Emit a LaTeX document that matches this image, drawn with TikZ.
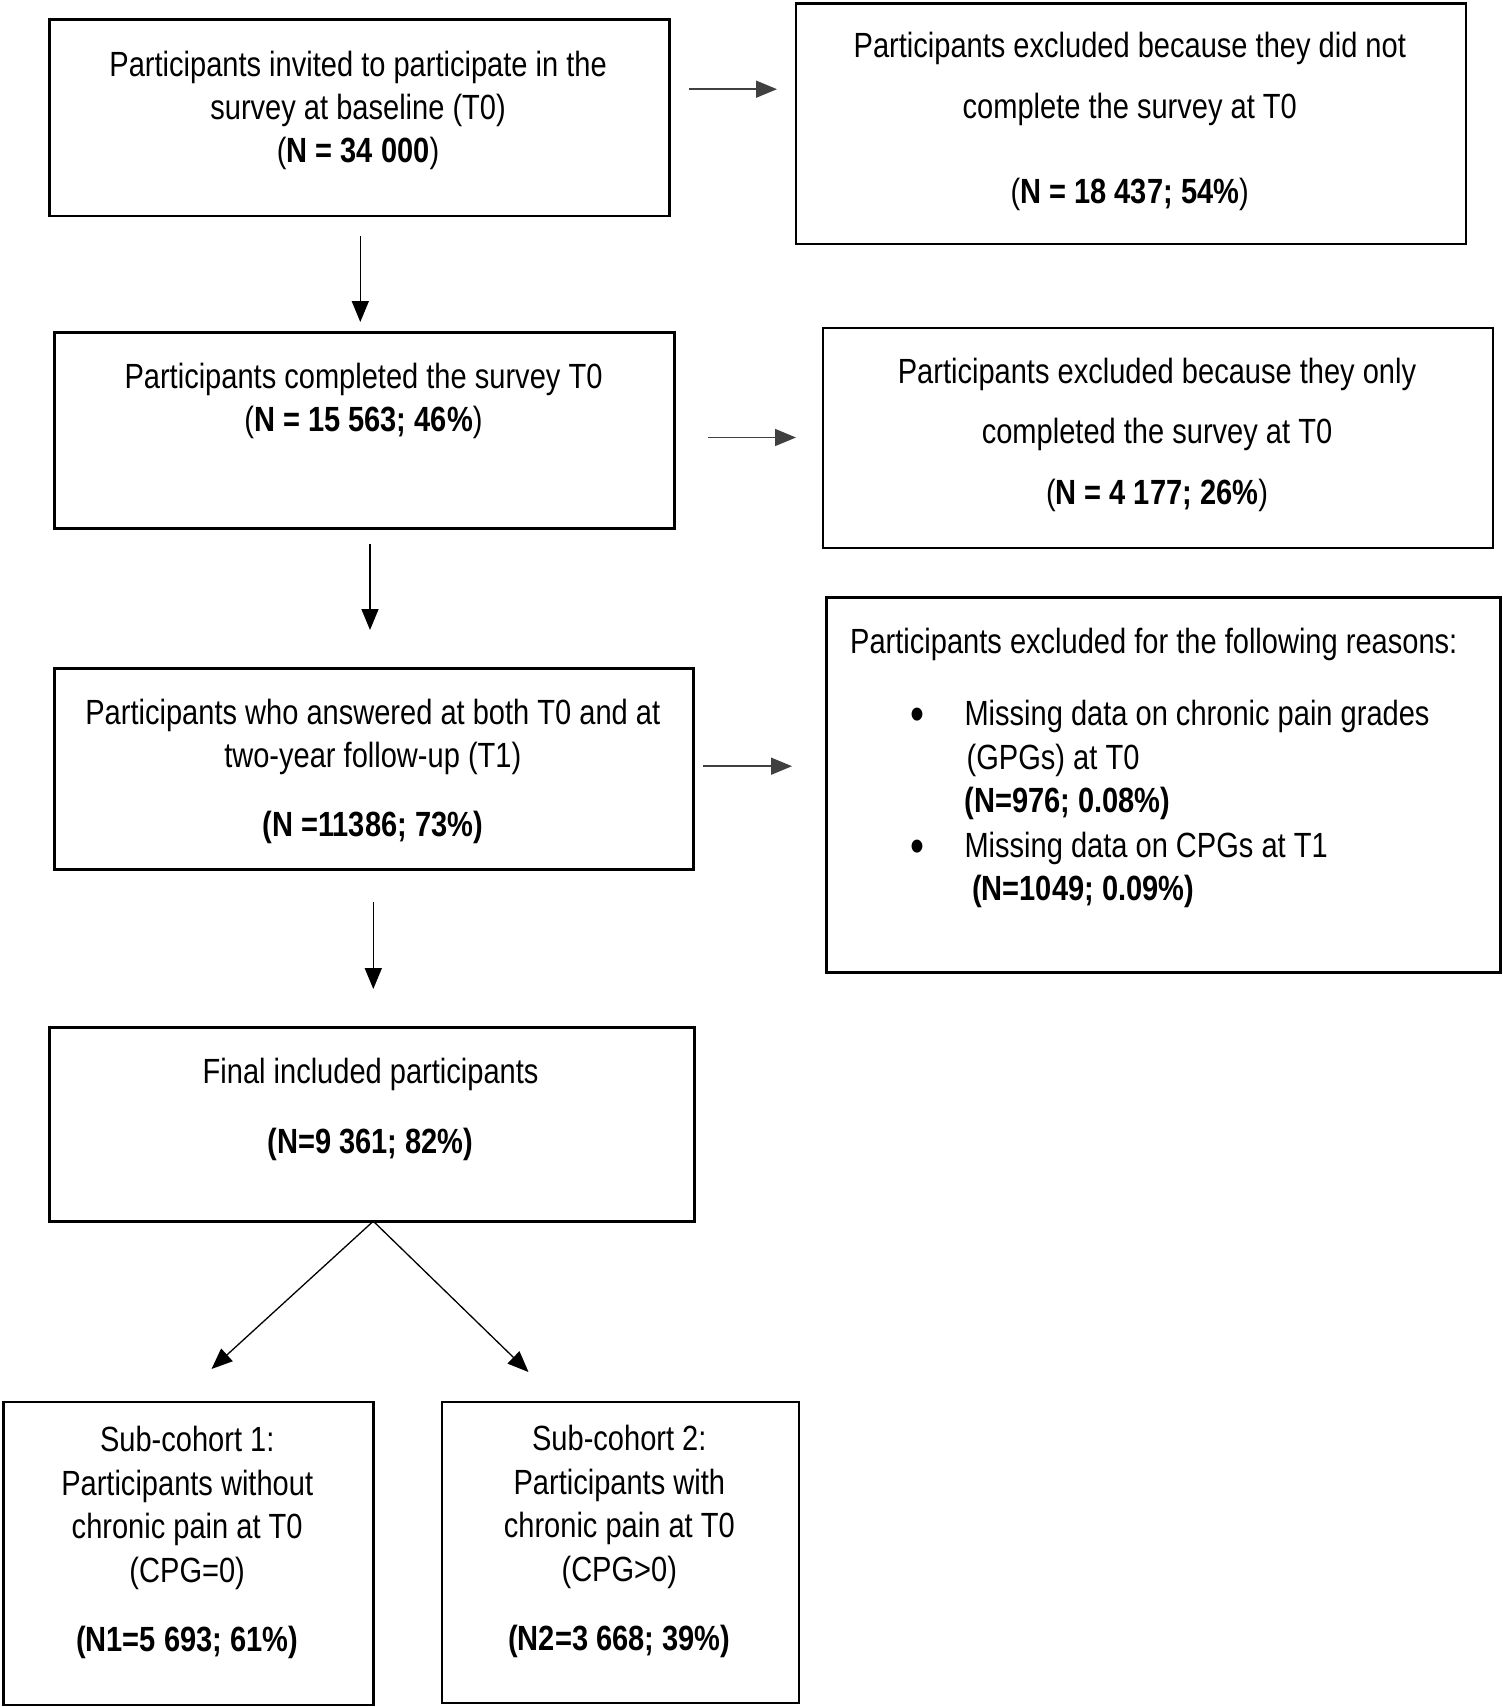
\documentclass[tikz,border=0pt]{standalone}
\usepackage{fontspec}
\setmainfont{Liberation Sans}[FakeStretch=0.83]
\usetikzlibrary{arrows.meta}
\begin{document}
\begin{tikzpicture}[x=1pt,y=-1pt,
  box/.style={draw=black, line width=2.6pt, fill=none},
  txt/.style={anchor=base, inner sep=0pt, font=\fontsize{35}{40}\selectfont},
  ltxt/.style={txt, anchor=base west},
  bul/.style={txt, font=\fontsize{48}{50}\selectfont},
  arr/.style={line width=1.6pt, -{Triangle[length=21pt,width=17pt]}},
  harr/.style={arr, draw=black!75}]
\useasboundingbox (0,0) rectangle (1502,1707);
% boxes
\node[box, minimum width=620pt, minimum height=196pt, anchor=north west] (A) at (47.9,18.5) {};
\node[box, minimum width=670pt, minimum height=240pt, anchor=north west] (B) at (794.5,2.5) {};
\node[box, minimum width=620pt, minimum height=196pt, anchor=north west] (C) at (53.3,330.9) {};
\node[box, minimum width=670pt, minimum height=220pt, anchor=north west] (D) at (821.7,326.5) {};
\node[box, minimum width=639pt, minimum height=201pt, anchor=north west] (E) at (53.3,667.2) {};
\node[box, minimum width=674pt, minimum height=375pt, anchor=north west] (F) at (825,596.4) {};
\node[box, minimum width=645pt, minimum height=194pt, anchor=north west] (G) at (47.9,1026.4) {};
\node[box, minimum width=370pt, minimum height=303pt, anchor=north west] (H) at (2.2,1400.8) {};
\node[box, minimum width=357pt, minimum height=301pt, anchor=north west] (I) at (440.8,1400.8) {};
% texts box A
\node[txt] (a1) at (358.1,76.5) {Participants invited to participate in the};
\node[txt] (a2) at (358.1,120) {survey at baseline (T0)};
\node[txt] (a3) at (358.1,162.5) {(\textbf{N = 34 000})};
% box B
\node[txt] (b1) at (1129.8,58) {Participants excluded because they did not};
\node[txt] (b2) at (1129.8,119) {complete the survey at T0};
\node[txt] (b3) at (1129.8,204) {(\textbf{N = 18 437; 54\%})};
% box C
\node[txt] (c1) at (363.5,388) {Participants completed the survey T0};
\node[txt] (c2) at (363.5,431.5) {(\textbf{N = 15 563; 46\%})};
% box D
\node[txt] (d1) at (1157,383.5) {Participants excluded because they only};
\node[txt] (d2) at (1157,443.5) {completed the survey at T0};
\node[txt] (d3) at (1157,504.5) {(\textbf{N = 4 177; 26\%})};
% box E
\node[txt] (e1) at (372.8,724) {Participants who answered at both T0 and at};
\node[txt] (e2) at (372.8,767.5) {two-year follow-up (T1)};
\node[txt] (e3) at (372.8,836.5) {\textbf{(N =11386; 73\%)}};
% box F
\node[ltxt] (f1) at (850,653.5) {Participants excluded for the following reasons:};
\node[bul] (fb1) at (917.5,730.5) {•};
\node[ltxt] (f2) at (964.3,725.5) {Missing data on chronic pain grades};
\node[ltxt] (f3) at (966.5,769) {(GPGs) at T0};
\node[ltxt] (f4) at (964.3,812.5) {\textbf{(N=976; 0.08\%)}};
\node[bul] (fb2) at (917.5,862) {•};
\node[ltxt] (f5) at (964.3,857) {Missing data on CPGs at T1};
\node[ltxt] (f6) at (972,900.5) {\textbf{(N=1049; 0.09\%)}};
% box G
\node[txt] (g1) at (370.6,1083.5) {Final included participants};
\node[txt] (g2) at (370.6,1153) {\textbf{(N=9 361; 82\%)}};
% box H
\node[txt] (h1) at (187.2,1451.5) {Sub-cohort 1:};
\node[txt] (h2) at (187.2,1495) {Participants without};
\node[txt] (h3) at (187.2,1538.5) {chronic pain at T0};
\node[txt] (h4) at (187.2,1582) {(CPG=0)};
\node[txt] (h5) at (187.2,1651.5) {\textbf{(N1=5 693; 61\%)}};
% box I
\node[txt] (i1) at (619.3,1450.5) {Sub-cohort 2:};
\node[txt] (i2) at (619.3,1494) {Participants with};
\node[txt] (i3) at (619.3,1537.5) {chronic pain at T0};
\node[txt] (i4) at (619.3,1581) {(CPG>0)};
\node[txt] (i5) at (619.3,1650.5) {\textbf{(N2=3 668; 39\%)}};
% connector end points
\coordinate (ab1) at (689,89.2);   \coordinate (ab2) at (777,89.2);
\coordinate (ac1) at (360.3,236.2); \coordinate (ac2) at (360.3,322);
\coordinate (cd1) at (707.5,437.5); \coordinate (cd2) at (796,437.5);
\coordinate (ce1) at (370,544.2);  \coordinate (ce2) at (370,630);
\coordinate (ef1) at (703.1,766.2); \coordinate (ef2) at (792,766.2);
\coordinate (eg1) at (373.3,902.3); \coordinate (eg2) at (373.3,989);
\coordinate (gs) at (373.3,1221.2);
\coordinate (gh) at (211.5,1369);
\coordinate (gi) at (528.5,1372);
% connectors
\draw[harr] (ab1) -- (ab2);
\draw[arr] (ac1) -- (ac2);
\draw[harr] (cd1) -- (cd2);
\draw[arr] (ce1) -- (ce2);
\draw[harr] (ef1) -- (ef2);
\draw[arr] (eg1) -- (eg2);
\draw[arr, line width=1.3pt] (gs) -- (gh);
\draw[arr, line width=1.3pt] (gs) -- (gi);
\end{tikzpicture}
\end{document}
